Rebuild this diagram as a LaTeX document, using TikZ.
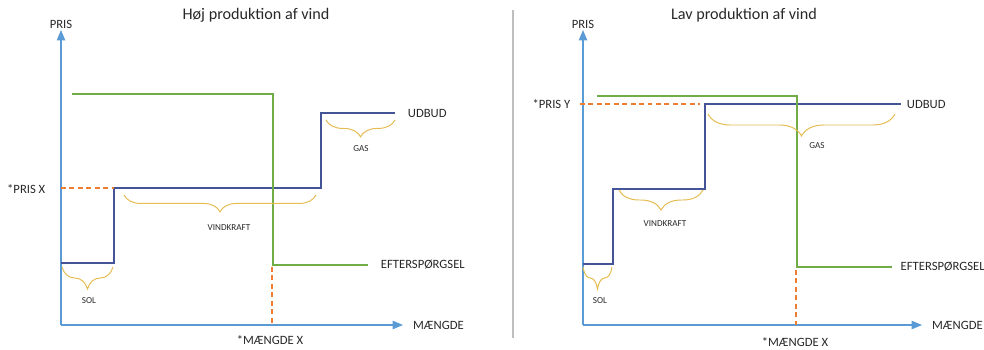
\documentclass[tikz,border=0pt]{standalone}
\usepackage{fontspec}
\setmainfont{Carlito}
\usetikzlibrary{positioning}
\usetikzlibrary{arrows.meta}
\usetikzlibrary{decorations.pathreplacing}
\definecolor{aksecol}{RGB}{91,155,213}
\definecolor{udbudcol}{RGB}{68,84,150}
\definecolor{eftercol}{RGB}{112,173,71}
\definecolor{stregcol}{RGB}{237,125,49}
\definecolor{tuborgcol}{RGB}{228,188,80}
\definecolor{tekstcol}{RGB}{40,40,40}
\tikzset{akse/.style={draw=aksecol, line width=0.8pt, -{Triangle[length=2.6mm,width=2.1mm]}}}
\tikzset{udbud/.style={draw=udbudcol, line width=0.9pt}}
\tikzset{efter/.style={draw=eftercol, line width=0.8pt}}
\tikzset{streg/.style={draw=stregcol, line width=1.1pt, dash pattern=on 3.5pt off 2.5pt}}
\tikzset{tuborg/.style={draw=tuborgcol, line width=0.7pt, decorate, decoration={brace, mirror, amplitude=#1}}}
\tikzset{lbl/.style={font=\fontsize{9}{10}\selectfont, text=tekstcol, inner sep=1pt}}
\tikzset{blbl/.style={font=\fontsize{6.5}{7}\selectfont, text=tekstcol, inner sep=1pt}}
\tikzset{titel/.style={font=\fontsize{11.5}{13}\selectfont, text=tekstcol, inner sep=1pt}}

\begin{document}
\begin{tikzpicture}[x=0.025cm, y=-0.025cm]
\useasboundingbox (0,0) rectangle (984,349);

% skillelinje
\coordinate (sepA) at (513,10);
\coordinate (sepB) at (513,338);
\draw[draw=black!25, line width=1.4pt] (sepA) -- (sepB);

% ---- hoej produktion af vind ----
\node (titelH) [titel] at (256,15) {Høj produktion af vind};
\coordinate (oH) at (61,325);
\coordinate (yH) at (61,30);
\coordinate (xH) at (403,325);
\node (prisH) [lbl, above=0pt of yH] {PRIS};
\node (maengdeH) [lbl, right=6pt of xH] {MÆNGDE};
\draw[akse] (oH) -- (yH);
\draw[akse] (oH) -- (xH);

\coordinate (sH1) at (61,263);
\coordinate (sH2) at (114,263);
\coordinate (sH3) at (114,188);
\coordinate (sH4) at (321,188);
\coordinate (sH5) at (321,113);
\coordinate (sH6) at (395,113);
\draw[udbud] (sH1) -- (sH2) -- (sH3) -- (sH4) -- (sH5) -- (sH6);
\node (udbudH) [lbl, right=8pt of sH6] {UDBUD};

\coordinate (dH1) at (72,94);
\coordinate (dH2) at (273,94);
\coordinate (dH3) at (273,265);
\coordinate (dH4) at (368,265);
\draw[efter] (dH1) -- (dH2) -- (dH3) -- (dH4);
\node (efterH) [lbl, right=8pt of dH4] {EFTERSPØRGSEL};

\coordinate (pH) at (61,188);
\coordinate (mH1) at (272,267);
\coordinate (mH2) at (272,325);
\draw[streg] (pH) -- (sH3);
\draw[streg] (mH1) -- (mH2);
\node (prisX) [lbl, anchor=east] at (47,189) {*PRIS X};
\node (maengdeX) [lbl] at (270,340) {*MÆNGDE X};

\coordinate (bsH1) at (62,267);
\coordinate (bsH2) at (113,267);
\coordinate (bvH1) at (124,195);
\coordinate (bvH2) at (316,195);
\coordinate (bgH1) at (326,120);
\coordinate (bgH2) at (395,120);
\draw[tuborg=0.55cm] (bsH1) -- (bsH2);
\draw[tuborg=0.42cm] (bvH1) -- (bvH2);
\draw[tuborg=0.42cm] (bgH1) -- (bgH2);
\node (solH) [blbl] at (89,301) {SOL};
\node (vindH) [blbl] at (229,228) {VINDKRAFT};
\node (gasH) [blbl] at (361,149) {GAS};

% ---- lav produktion af vind ----
\node (titelL) [titel] at (744,15) {Lav produktion af vind};
\coordinate (oL) at (583,325);
\coordinate (yL) at (583,30);
\coordinate (xL) at (922,325);
\node (prisL) [lbl, above=0pt of yL] {PRIS};
\node (maengdeL) [lbl, right=6pt of xL] {MÆNGDE};
\draw[akse] (oL) -- (yL);
\draw[akse] (oL) -- (xL);

\coordinate (sL1) at (583,264);
\coordinate (sL2) at (613,264);
\coordinate (sL3) at (613,189);
\coordinate (sL4) at (705,189);
\coordinate (sL5) at (705,104);
\coordinate (sL6) at (901,104);
\draw[udbud] (sL1) -- (sL2) -- (sL3) -- (sL4) -- (sL5) -- (sL6);
\node (udbudL) [lbl, right=3pt of sL6] {UDBUD};

\coordinate (dL1) at (597,96);
\coordinate (dL2) at (797,96);
\coordinate (dL3) at (797,267);
\coordinate (dL4) at (892,267);
\draw[efter] (dL1) -- (dL2) -- (dL3) -- (dL4);
\node (efterL) [lbl, right=5pt of dL4] {EFTERSPØRGSEL};

\coordinate (pL1) at (580,104);
\coordinate (pL2) at (700,104);
\coordinate (mL1) at (796,270);
\coordinate (mL2) at (796,325);
\draw[streg] (pL1) -- (pL2);
\draw[streg] (mL1) -- (mL2);
\node (prisY) [lbl, anchor=east] at (572,104) {*PRIS Y};
\node (maengdeY) [lbl] at (795,342) {*MÆNGDE X};

\coordinate (bsL1) at (583,267);
\coordinate (bsL2) at (612,267);
\coordinate (bvL1) at (619,190);
\coordinate (bvL2) at (703,190);
\coordinate (bgL1) at (708,114);
\coordinate (bgL2) at (895,114);
\draw[tuborg=0.55cm] (bsL1) -- (bsL2);
\draw[tuborg=0.5cm] (bvL1) -- (bvL2);
\draw[tuborg=0.55cm] (bgL1) -- (bgL2);
\node (solL) [blbl] at (600,301) {SOL};
\node (vindL) [blbl] at (665,224) {VINDKRAFT};
\node (gasL) [blbl] at (817,146) {GAS};
\end{tikzpicture}
\end{document}
